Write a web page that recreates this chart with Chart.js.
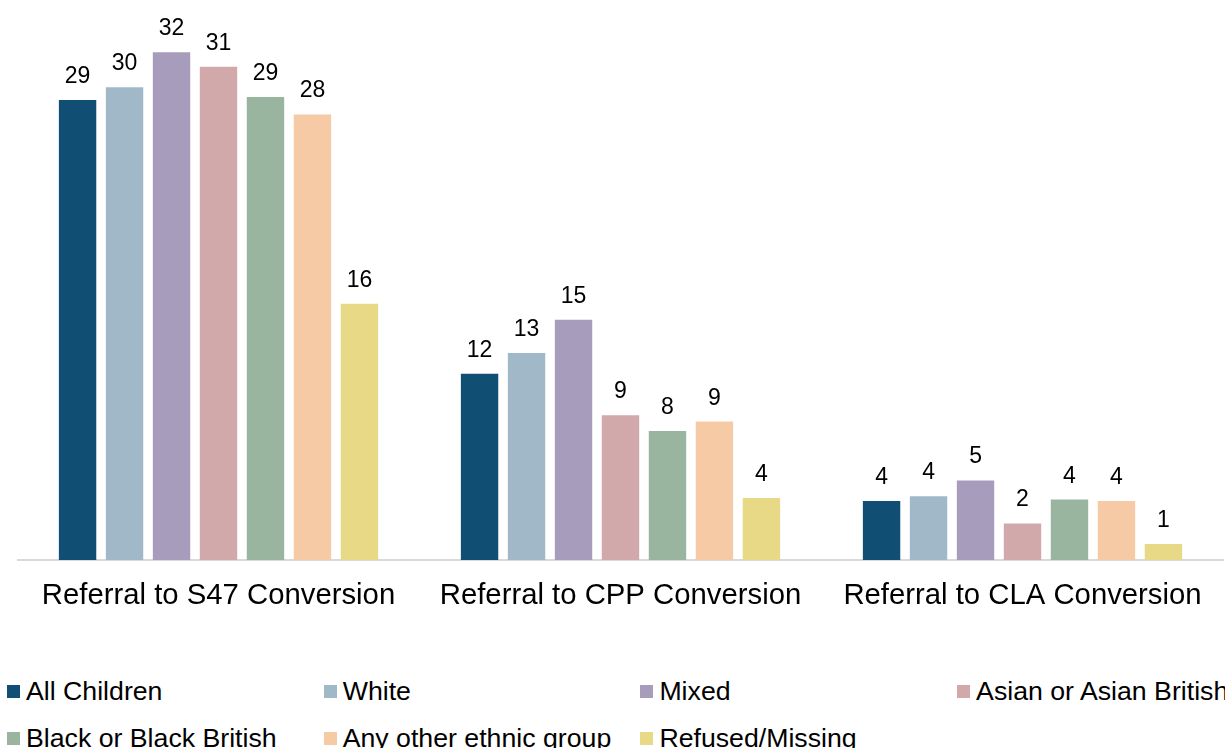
<!DOCTYPE html>
<html>
<head>
<meta charset="utf-8">
<script src="https://cdn.jsdelivr.net/npm/chart.js@4.4.1/dist/chart.umd.min.js"></script>
<style>
  html, body { margin: 0; padding: 0; background: #fff; overflow: hidden; }
  #wrap { position: relative; width: 1225px; height: 748px; overflow: hidden; }
  #chartBox { position: absolute; left: 0; top: 0; width: 1225px; height: 640px; }
  .leg { position: absolute; display: flex; align-items: center; white-space: nowrap;
         font-family: "Liberation Sans", Arial, sans-serif; font-size: 26.7px; color: #000; }
  .leg span.sw { display: inline-block; width: 13px; height: 13px; margin-right: 6px; }
</style>
</head>
<body>
<div id="wrap">
  <div id="chartBox"><canvas id="myChart"></canvas></div>
  <div id="legend"></div>
</div>
<script>
// Categories
const categories = ['Referral to S47 Conversion', 'Referral to CPP Conversion', 'Referral to CLA Conversion'];

// Series names and colours
const seriesNames = ['All Children', 'White', 'Mixed', 'Asian or Asian British', 'Black or Black British', 'Any other ethnic group', 'Refused/Missing'];
const seriesColors = ['#114E73', '#A1B8C8', '#A89CBC', '#D2A9AA', '#9AB59F', '#F6CAA5', '#E8D987'];

// Values per series (S47, CPP, CLA)
const allChildren = [28.9, 11.7, 3.7];
const white       = [29.7, 13.0, 4.0];
const mixed       = [31.9, 15.1, 5.0];
const asian       = [31.0, 9.1, 2.3];
const black       = [29.1, 8.1, 3.8];
const anyOther    = [28.0, 8.7, 3.7];
const refused     = [16.1, 3.9, 1.0];

const seriesValues = [allChildren, white, mixed, asian, black, anyOther, refused];

const datasets = seriesNames.map((name, i) => ({
  label: name,
  data: seriesValues[i],
  backgroundColor: seriesColors[i],
  borderWidth: 0,
  categoryPercentage: 0.818,
  barPercentage: 0.796
}));

// Value labels above each bar
const barLabels = {
  id: 'barLabels',
  afterDatasetsDraw(chart) {
    const ctx = chart.ctx;
    ctx.save();
    ctx.font = '23px "Liberation Sans", Arial, sans-serif';
    ctx.fillStyle = '#000';
    ctx.textAlign = 'center';
    ctx.textBaseline = 'alphabetic';
    chart.data.datasets.forEach((ds, di) => {
      chart.getDatasetMeta(di).data.forEach((bar, j) => {
        ctx.fillText(String(Math.round(ds.data[j])), bar.x, bar.y - 17);
      });
    });
    ctx.restore();
  }
};

const ctx = document.getElementById('myChart').getContext('2d');
new Chart(ctx, {
  type: 'bar',
  data: { labels: categories, datasets: datasets },
  options: {
    responsive: true,
    maintainAspectRatio: false,
    animation: false,
    layout: { padding: { left: 17.5, right: 1.5, top: 3, bottom: 0 } },
    plugins: { legend: { display: false }, tooltip: { enabled: false } },
    scales: {
      x: {
        grid: { display: false, drawTicks: false },
        border: { display: true, color: '#D9D9D9', width: 2 },
        ticks: {
          color: '#000',
          padding: 18,
          font: { family: '"Liberation Sans", Arial, sans-serif', size: 29.3 }
        },
        afterFit: (s) => { s.height = 80; }
      },
      y: { display: false, min: 0, max: 35 }
    }
  },
  plugins: [barLabels]
});

// Legend in four columns, two rows
const legend = document.getElementById('legend');
seriesNames.forEach((name, i) => {
  const col = i % 4, row = Math.floor(i / 4);
  const item = document.createElement('div');
  item.className = 'leg';
  item.style.left = (7 + col * 316.7) + 'px';
  item.style.top = (691 + row * 47 - 15) + 'px';
  item.style.height = '30px';
  item.innerHTML = '<span class="sw" style="background:' + seriesColors[i] + '"></span>' + name;
  legend.appendChild(item);
});
</script>
</body>
</html>
